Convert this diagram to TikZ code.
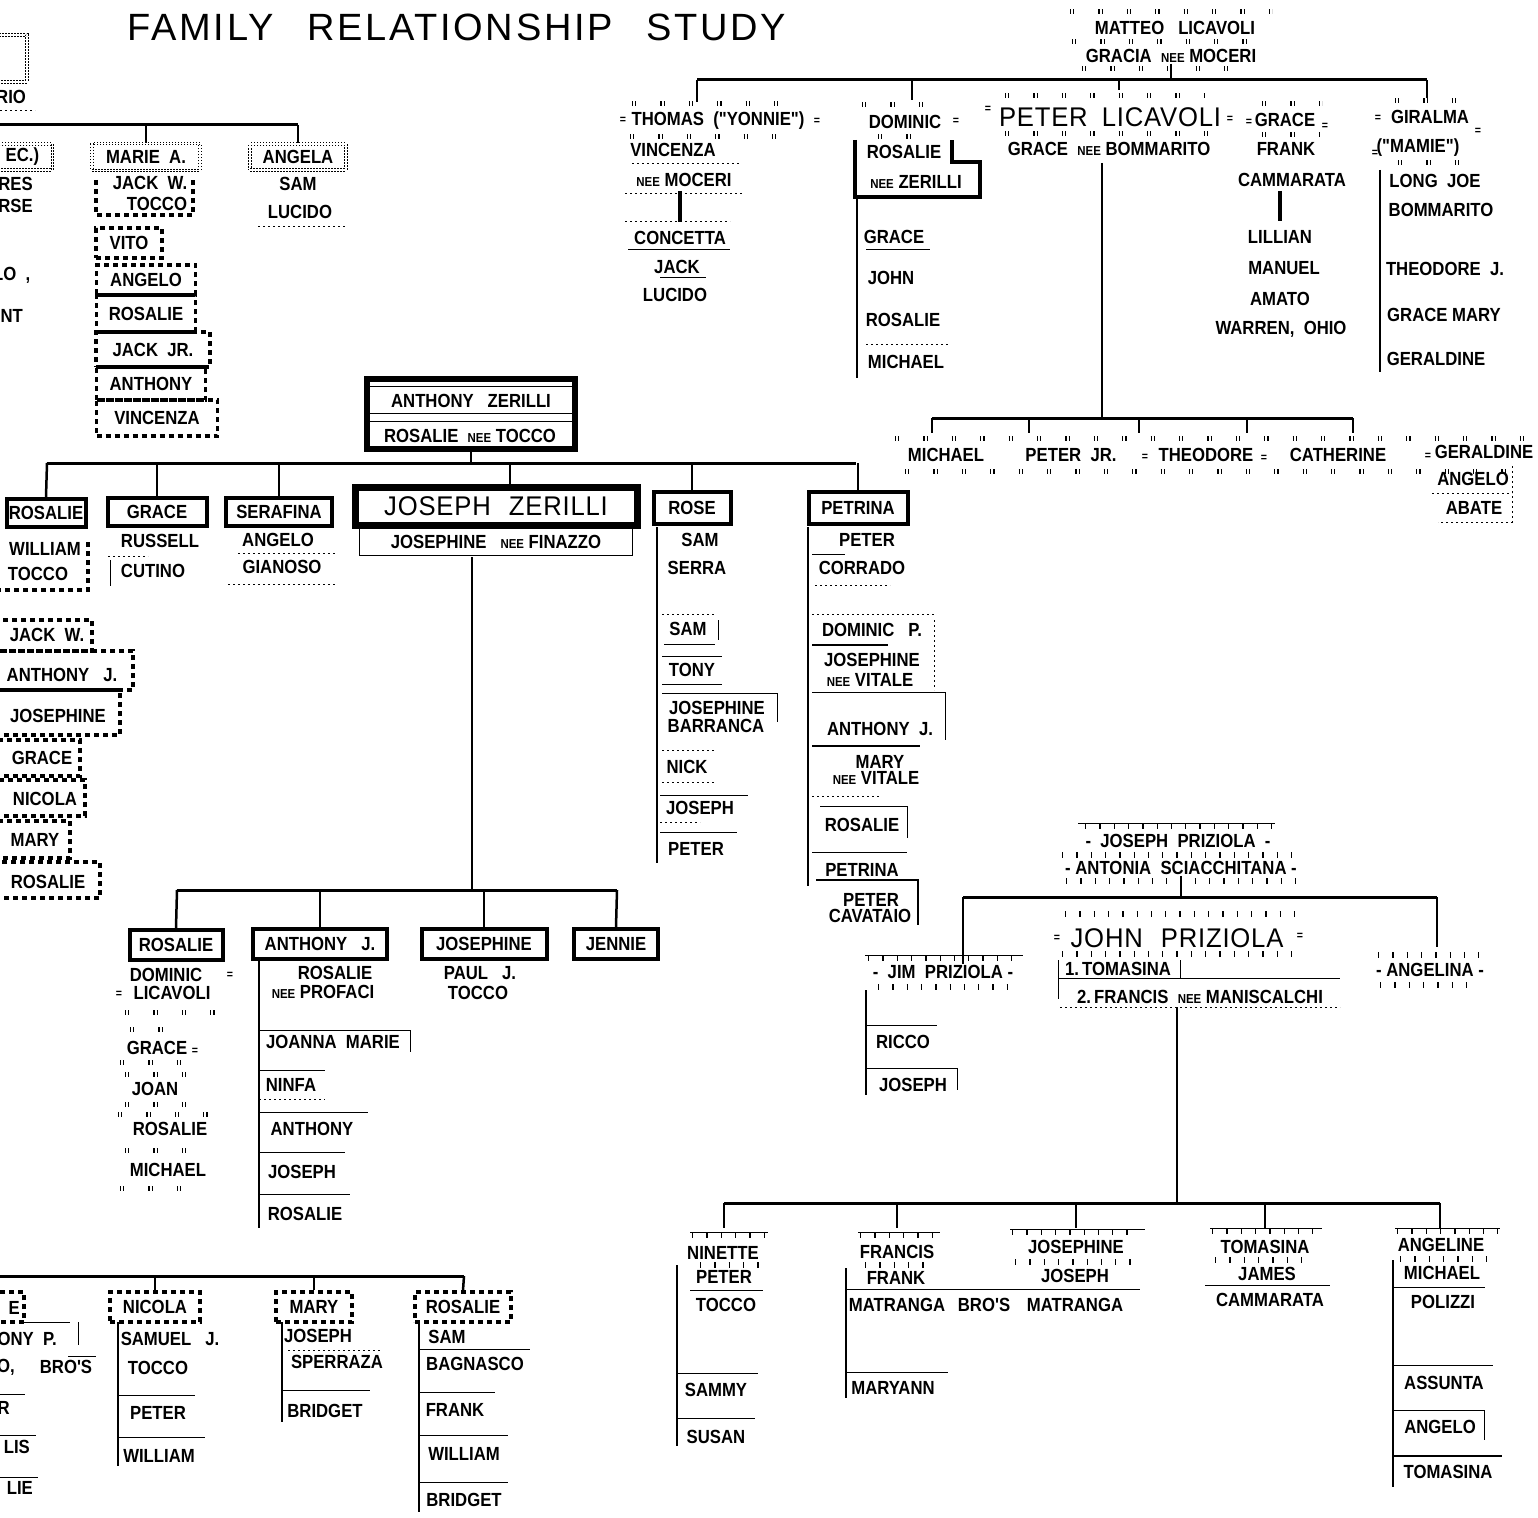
\documentclass[tikz,border=0pt]{standalone}
\usepackage{fontspec}
\setmainfont{Liberation Sans}
\newfontfamily\nmfont{Liberation Sans}[FakeStretch=0.88]
\newfontfamily\bgfont{Liberation Sans}[FakeStretch=0.95,LetterSpace=3]
\newfontfamily\ttlfont{Liberation Sans}[LetterSpace=7]
\newcommand\nee{{\fontsize{13}{13}\selectfont NEE}}
\begin{document}
\begin{tikzpicture}[x=1pt,y=-1pt,
 nm/.style={font=\nmfont\bfseries\fontsize{19}{20}\selectfont, inner sep=1pt},
 bg/.style={font=\bgfont\fontsize{27}{28}\selectfont, inner sep=1pt},
 hbox/.style={nm, draw, line width=4pt},
 dsq/.style={draw, line width=3.5pt, dash pattern=on 5pt off 4pt},
 hft/.style={draw, line width=1.2pt, dash pattern=on 1.5pt off 1.5pt, double, double distance=1.3pt},
 ln/.style={line width=2.5pt},
 bus/.style={line width=3pt},
 thn/.style={line width=0.9pt},
 dtd/.style={line width=0.9pt, dash pattern=on 2pt off 3pt},
 tk/.style={line width=5pt, dash pattern=on 1.2pt off 2pt on 1.2pt off 24pt},
 stk/.style={line width=6pt, dash pattern=on 1.3pt off 13pt},
 eqs/.style={font=\nmfont\bfseries\fontsize{12}{12}\selectfont, inner sep=0pt}]
\useasboundingbox (0,0) rectangle (1538,1517);
\fill[white] (0,0) rectangle (1538,1517);

% ---------- title
\node[font=\ttlfont\fontsize{38}{40}\selectfont, inner sep=0pt] (title) at (457,27) {FAMILY\hspace{34pt}RELATIONSHIP\hspace{34pt}STUDY};

% ---------- top-left fragment
\draw[hft] (-6,35) rectangle (27,82);
\node[nm, anchor=west] (rio) at (-5,97) {RIO};
\draw[dtd] (0,110) -- (35,110);
\coordinate (tl1) at (0,125); \coordinate (tl2) at (298,125);
\draw[bus] (tl1) -- (tl2);
\node[nm, hft, minimum width=108pt, minimum height=27pt] (marie) at (146,157) {MARIE\ \ A.};
\node[nm, hft, minimum width=96pt, minimum height=26pt] (angela) at (298,157) {ANGELA};
\draw[ln] (tl1 -| marie.north) -- (marie.north);
\draw[ln] (tl2) -- (angela.north);
\node[nm, hft, minimum width=60pt, minimum height=26pt, anchor=east] (ec) at (53,157) {EC.)};
\node[nm, anchor=east] (res) at (34,184) {RES};
\node[nm, anchor=east] (rse) at (34,206) {RSE};
\node[nm, anchor=west] (lo) at (-8,275) {LO\ \ ,};
\node[nm, anchor=east] (nt) at (24,316) {NT};

% Marie A. children
\node[nm] (jackW) at (150,183) {JACK\ \ W.};
\node[nm] (toccoM) at (157,204) {TOCCO};
\draw[dsq] (96,180) -- (96,215) -- (193,215) -- (193,180);
\node[nm, dsq, minimum width=66pt, minimum height=30pt] (vito) at (129,243) {VITO};
\node[nm, dsq, minimum width=99pt, minimum height=30pt] (angeloM) at (146,280) {ANGELO};
\node[nm, dsq, minimum width=99pt, minimum height=37pt] (rosalieM) at (146,313.5) {ROSALIE};
\node[nm, dsq, minimum width=114pt, minimum height=35pt] (jackjr) at (153,349.5) {JACK\ \ JR.};
\node[nm, dsq, minimum width=109pt, minimum height=33pt] (anthonyM) at (151,383.5) {ANTHONY};
\node[nm, dsq, minimum width=121pt, minimum height=36pt] (vincenzaM) at (157,418) {VINCENZA};

% Angela children
\node[nm] (samA) at (298,184) {SAM};
\node[nm] (lucidoA) at (300,212) {LUCIDO};
\draw[dtd] (258,226) -- (346,226);

% ---------- Matteo Licavoli
\draw[tk] (1070,12) -- (1272,12);
\node[nm] (matteo) at (1175,28) {MATTEO\ \ \ LICAVOLI};
\draw[tk] (1072,42) -- (1268,42);
\node[nm] (gracia) at (1171,56) {GRACIA\ \ \nee\ MOCERI};
\draw[tk] (1082,69) -- (1250,69);
\coordinate (mb1) at (697,80); \coordinate (mb2) at (1427,80);
\draw[bus] (mb1) -- (mb2);
\draw[ln] (gracia.south) -- (gracia.south |- mb1);

% Thomas
\draw[ln] (mb1) -- ++(0,22);
\draw[tk] (632,104) -- (790,104);
\node[nm] (thomas) at (718,121) {THOMAS\ \ ("YONNIE")};
\node[eqs] (eqt1) at (623,120) {=};
\node[eqs] (eqt2) at (817,121) {=};
\draw[tk] (630,137) -- (795,137);
\node[nm] (vincenzaT) at (673,150) {VINCENZA};
\draw[dtd] (632,163) -- (740,163);
\node[nm] (neeMoceri) at (684,180) {\nee\ MOCERI};
\draw[dtd] (625,193) -- (742,193);
\node[nm] (concetta) at (680,238) {CONCETTA};
\draw[line width=3.5pt] (neeMoceri.south -| concetta.north) -- (concetta.north) [shorten <=3pt, shorten >=8pt];
\draw[dtd] (625,221) -- (730,221);
\draw[thn] (628,249) -- (730,249);
\node[nm] (jackT) at (677,267) {JACK};
\draw[thn] (660,277) -- (706,277);
\node[nm] (lucidoT) at (675,295) {LUCIDO};

% Dominic
\coordinate (dd) at (912,100);
\draw[ln] (dd |- mb1) -- (dd);
\draw[tk] (862,105) -- (930,105);
\node[nm] (dominic) at (905,122) {DOMINIC};
\node[eqs] (eqd) at (956,121) {=};
\draw[tk] (878,137) -- (930,137);
\draw[line width=4pt] (855,140) -- (855,197) -- (980,197) -- (980,162) -- (952,162) -- (952,140);
\node[nm] (rosalieD) at (904,152) {ROSALIE};
\node[nm] (neeZer) at (916,182) {\nee\ ZERILLI};
\coordinate (dv1) at (857,197); \coordinate (dv2) at (857,378);
\draw[ln] (dv1) -- (dv2);
\node[nm] (graceD) at (894,237) {GRACE};
\node[nm] (johnD) at (891,278) {JOHN};
\node[nm] (rosalieD2) at (903,320) {ROSALIE};
\node[nm] (michaelD) at (906,362) {MICHAEL};
\draw[thn] (866,249) -- (930,249);
\draw[dtd] (866,344) -- (950,344);

% Peter Licavoli
\coordinate (dp) at (1119,90);
\draw[ln] (dp |- mb1) -- (dp);
\draw[tk] (1005,96) -- (1205,96);
\node[bg] (plicavoli) at (1110,117) {PETER\hspace{14pt}LICAVOLI};
\node[eqs] (eqp1) at (988,109) {=};
\node[eqs] (eqp2) at (1230,119) {=};
\draw[tk] (1005,134) -- (1210,134);
\node[nm] (graceB) at (1109,149) {GRACE\ \ \nee\ BOMMARITO};
\coordinate (pv) at (1102,163);
\coordinate (pb1) at (932,418); \coordinate (pb2) at (1353,418);
\draw[ln] (pv) -- (pv |- pb1);
\draw[bus] (pb1) -- (pb2);
\foreach \x [count=\i] in {932,1029,1139,1247,1353} {
  \coordinate (pd\i) at (\x,433);
  \draw[ln] (pd\i |- pb1) -- (pd\i);
}
\draw[tk] (895,438) -- (1530,438);
\node[nm] (michaelL) at (946,455) {MICHAEL};
\node[nm] (peterjr) at (1071,455) {PETER\ \ JR.};
\node[nm] (theodoreL) at (1206,455) {THEODORE};
\node[nm] (catherine) at (1338,455) {CATHERINE};
\node[nm] (geraldineL) at (1484,452) {GERALDINE};
\node[eqs] (eqc1) at (1145,457) {=};
\node[eqs] (eqc2) at (1264,458) {=};
\node[eqs] (eqc3) at (1428,456) {=};
\draw[tk] (905,471) -- (1520,471);
\node[nm] (angeloA) at (1473,479) {ANGELO};
\node[nm] (abate) at (1474,508) {ABATE};
\draw[dtd] (1432,493) -- (1512,493);
\draw[dtd] (1512,466) -- (1512,522) -- (1438,522);

% Grace / Frank Cammarata
\draw[tk] (1262,104) -- (1322,104);
\node[nm] (graceF) at (1285,120) {GRACE};
\node[eqs] (eqg1) at (1249,122) {=};
\node[eqs] (eqg2) at (1325,126) {=};
\draw[tk] (1262,135) -- (1320,135);
\node[nm] (frank) at (1286,149) {FRANK};
\node[nm] (cammarata) at (1292,180) {CAMMARATA};
\node[nm] (lillian) at (1280,237) {LILLIAN};
\draw[line width=3.5pt] (cammarata.south -| lillian.north) -- (lillian.north) [shorten <=3pt, shorten >=8pt];
\node[nm] (manuel) at (1284,268) {MANUEL};
\node[nm] (amato) at (1280,299) {AMATO};
\node[nm] (warren) at (1281,329) {WARREN,\ \ OHIO};

% Giralma
\draw[ln] (mb2) -- ++(0,18);
\draw[tk] (1395,101) -- (1480,101);
\node[nm] (giralma) at (1430,117) {GIRALMA};
\node[eqs] (eqm1) at (1378,118) {=};
\node[eqs] (eqm2) at (1478,131) {=};
\node[nm] (mamie) at (1418,148) {("MAMIE")};
\node[eqs] (eqm3) at (1375,153) {=};
\draw[tk] (1398,163) -- (1470,163);
\coordinate (gv1) at (1380,170); \coordinate (gv2) at (1380,372);
\draw[ln] (gv1) -- (gv2);
\node[nm] (longjoe) at (1435,181) {LONG\ \ JOE};
\node[nm] (bommaritoG) at (1441,210) {BOMMARITO};
\node[nm] (theodoreJ) at (1445,269) {THEODORE\ \ J.};
\node[nm] (gracemary) at (1444,315) {GRACE\ MARY};
\node[nm] (geraldineG) at (1436,359) {GERALDINE};

% ---------- Anthony Zerilli
\node[draw, line width=6pt, minimum width=208pt, minimum height=70pt, inner sep=0pt] (azbox) at (471,414) {};
\draw[thn] (369,386) rectangle (573,413);
\draw[thn] (369,421) rectangle (573,447);
\node[nm] (anthonyZ) at (471,401) {ANTHONY\ \ \ ZERILLI};
\node[nm] (rosalieT) at (470,436) {ROSALIE\ \ \nee\ TOCCO};
\coordinate (zb1) at (47,463); \coordinate (zb2) at (856,463);
\draw[ln] (azbox.south) -- (azbox.south |- zb1);
\draw[bus] (zb1) -- (zb2);

\node[hbox, minimum width=79pt, minimum height=28pt] (zrosalie) at (46,513) {ROSALIE};
\node[hbox, minimum width=99pt, minimum height=28pt] (zgrace) at (157,512) {GRACE\hspace{20pt}};
\node[hbox, minimum width=106pt, minimum height=28pt] (zserafina) at (279,512) {SERAFINA};
\node[draw, line width=7pt, bg, minimum width=282pt, minimum height=38pt] (jz) at (496,506) {JOSEPH\hspace{18pt}ZERILLI};
\node[nm, draw, line width=1.8pt, minimum width=273pt, minimum height=27pt] (jzwife) at (496,542) {JOSEPHINE\ \ \ \nee\ FINAZZO};
\node[hbox, minimum width=77pt, minimum height=32pt] (zrose) at (692,508) {ROSE};
\node[hbox, minimum width=99pt, minimum height=32pt] (zpetrina) at (858,508) {PETRINA};
\draw[ln] (zb1) -- (zrosalie.north);
\draw[ln] (zb1 -| zgrace.north) -- (zgrace.north);
\draw[ln] (zb1 -| zserafina.north) -- (zserafina.north);
\coordinate (jzd) at (510,487);
\draw[ln] (jzd |- zb1) -- (jzd);
\draw[ln] (zb1 -| zrose.north) -- (zrose.north);
\draw[ln] (zb1 -| zpetrina.north) -- (zpetrina.north);

% Rosalie (Tocco) children
\node[nm] (williamT) at (45,549) {WILLIAM};
\node[nm] (toccoT1) at (38,574) {TOCCO};
\draw[dsq] (88,542) -- (88,590) -- (-5,590);
\draw[dsq] (-5,620) rectangle (92,651);
\draw[dsq] (-5,651) rectangle (133,690);
\draw[dsq] (-5,690) rectangle (120,735);
\draw[dsq] (-5,740) rectangle (80,776);
\draw[dsq] (-5,780) rectangle (85,816);
\draw[dsq] (-5,821) rectangle (70,858);
\draw[dsq] (-5,862) rectangle (100,898);
\node[nm] (jackWL) at (47,635) {JACK\ \ W.};
\node[nm] (anthonyJL) at (62,675) {ANTHONY\ \ \ J.};
\node[nm] (josephineL) at (58,716) {JOSEPHINE};
\node[nm] (graceLL) at (42,758) {GRACE};
\node[nm] (nicolaL) at (45,799) {NICOLA};
\node[nm] (maryL) at (35,840) {MARY};
\node[nm] (rosalieLL) at (48,882) {ROSALIE};

% Grace / Serafina children
\node[nm] (russell) at (160,541) {RUSSELL};
\node[nm] (cutino) at (153,571) {CUTINO};
\draw[dtd] (108,556) -- (148,556);
\draw[thn] (110,560) -- (110,586);
\node[nm] (angeloS) at (278,540) {ANGELO};
\node[nm] (gianoso) at (282,567) {GIANOSO};
\draw[dtd] (238,553) -- (335,553);
\draw[dtd] (228,584) -- (335,584);

% Rose children
\coordinate (rv1) at (657,527); \coordinate (rv2) at (657,863);
\draw[ln] (rv1) -- (rv2);
\node[nm] (samR) at (700,540) {SAM};
\node[nm] (serra) at (697,568) {SERRA};
\node[nm] (samR2) at (688,629) {SAM};
\node[nm] (tony) at (692,670) {TONY};
\node[nm] (josephineR) at (717,708) {JOSEPHINE};
\node[nm] (barranca) at (716,726) {BARRANCA};
\node[nm] (nick) at (687,767) {NICK};
\node[nm] (josephR) at (700,808) {JOSEPH};
\node[nm] (peterR) at (696,849) {PETER};
\draw[dtd] (662,614) -- (716,614);
\draw[thn] (664,644) -- (715,644);
\draw[thn] (718,620) -- (718,640);
\draw[thn] (662,656) -- (722,656);
\draw[thn] (662,684) -- (722,684);
\draw[thn] (662,693) -- (777,693) -- (777,722);
\draw[dtd] (662,750) -- (716,750);
\draw[dtd] (662,782) -- (716,782);
\draw[thn] (660,795) -- (748,795);
\draw[dtd] (660,822) -- (700,822);
\draw[thn] (660,832) -- (737,832);

% Petrina children
\coordinate (pv1) at (808,527); \coordinate (pv2) at (808,886);
\draw[ln] (pv1) -- (pv2);
\node[nm] (peterP) at (867,540) {PETER};
\node[nm] (corrado) at (862,568) {CORRADO};
\node[nm] (dominicP) at (872,630) {DOMINIC\ \ \ P.};
\node[nm] (josephineV) at (872,660) {JOSEPHINE};
\node[nm] (neeVitale1) at (870,680) {\nee\ VITALE};
\node[nm] (anthonyJP) at (880,729) {ANTHONY\ \ J.};
\node[nm] (maryV) at (880,762) {MARY};
\node[nm] (neeVitale2) at (876,778) {\nee\ VITALE};
\node[nm] (rosalieP) at (862,825) {ROSALIE};
\node[nm] (petrinaP) at (862,870) {PETRINA};
\node[nm] (peterC) at (871,900) {PETER};
\node[nm] (cavataio) at (870,916) {CAVATAIO};
\draw[thn] (812,554) -- (845,554);
\draw[dtd] (815,585) -- (890,585);
\draw[dtd] (812,614) -- (934,614);
\draw[line width=1.8pt] (812,645) -- (888,645);
\draw[dtd] (934,620) -- (934,690);
\draw[thn] (812,692) -- (945,692) -- (945,740);
\draw[line width=1.8pt] (812,746) -- (920,746);
\draw[dtd] (812,796) -- (880,796) ;
\draw[thn] (820,806) -- (907,806) -- (907,838);
\draw[thn] (812,852) -- (907,852);
\draw[line width=1.8pt] (816,880) -- (918,880) -- (918,925);

% ---------- Joseph Zerilli children
\coordinate (jv) at (472,557);
\coordinate (jb1) at (177,890); \coordinate (jb2) at (617,890);
\draw[ln] (jv) -- (jv |- jb1);
\draw[bus] (jb1) -- (jb2);
\node[hbox, minimum width=93pt, minimum height=30pt] (jrosalie) at (176,945) {ROSALIE};
\node[hbox, minimum width=134pt, minimum height=30pt] (janthony) at (320,944) {ANTHONY\ \ \ J.};
\node[hbox, minimum width=125pt, minimum height=30pt] (jjosephine) at (484,944) {JOSEPHINE};
\node[hbox, minimum width=84pt, minimum height=30pt] (jjennie) at (616,944) {JENNIE};
\draw[ln] (jb1) -- (jrosalie.north);
\draw[ln] (jb1 -| janthony.north) -- (janthony.north);
\draw[ln] (jb1 -| jjosephine.north) -- (jjosephine.north);
\draw[ln] (jb2) -- (jjennie.north);

% Rosalie (Dominic Licavoli)
\node[nm] (dominicL) at (166,975) {DOMINIC};
\node[eqs] (eql1) at (230,975) {=};
\node[nm] (licavoliL) at (172,993) {LICAVOLI};
\node[eqs] (eql2) at (119,994) {=};
\draw[tk] (125,1012) -- (232,1012);
\draw[tk] (130,1029) -- (185,1029);
\node[nm] (graceL) at (157,1048) {GRACE};
\node[eqs] (eql3) at (195,1051) {=};
\draw[tk] (120,1062) -- (190,1062);
\draw[tk] (125,1074) -- (196,1074);
\node[nm] (joan) at (155,1089) {JOAN};
\draw[tk] (125,1104) -- (200,1104);
\draw[tk] (118,1114) -- (220,1114);
\node[nm] (rosalieL) at (170,1129) {ROSALIE};
\draw[tk] (125,1150) -- (205,1150);
\node[nm] (michaelL2) at (168,1170) {MICHAEL};
\draw[tk] (120,1188) -- (195,1188);

% Anthony J. children
\coordinate (av1) at (259,960); \coordinate (av2) at (259,1228);
\draw[ln] (av1) -- (av2);
\node[nm] (rosalieP2) at (335,973) {ROSALIE};
\node[nm] (neeProfaci) at (323,992) {\nee\ PROFACI};
\node[nm] (joanna) at (333,1042) {JOANNA\ \ MARIE};
\node[nm] (ninfa) at (291,1085) {NINFA};
\node[nm] (anthonyA) at (312,1129) {ANTHONY};
\node[nm] (josephA) at (302,1172) {JOSEPH};
\node[nm] (rosalieA) at (305,1214) {ROSALIE};
\draw[thn] (259,1030) -- (410,1030) -- (410,1052);
\draw[thn] (259,1070) -- (325,1070);
\draw[dtd] (259,1099) -- (325,1099);
\draw[thn] (259,1112) -- (368,1112);
\draw[thn] (259,1152) -- (345,1152);
\draw[thn] (259,1194) -- (350,1194);

% Josephine children
\node[nm] (paul) at (480,973) {PAUL\ \ \ J.};
\node[nm] (toccoJ) at (478,993) {TOCCO};

% ---------- Priziola
\draw[thn] (1078,823) -- (1275,823);
\draw[stk] (1085,826) -- (1275,826);
\node[nm] (jpriz) at (1178,841) {-\ \ JOSEPH\ \ PRIZIOLA\ \ -};
\draw[stk] (1062,855) -- (1300,855);
\node[nm] (antonia) at (1181,868) {-\ ANTONIA\ \ SCIACCHITANA\ -};
\draw[stk] (1066,881) -- (1295,881);
\coordinate (pzb1) at (963,897); \coordinate (pzb2) at (1437,897);
\draw[ln] (antonia.south) -- (antonia.south |- pzb1);
\draw[bus] (pzb1) -- (pzb2);

% Jim Priziola
\node[nm] (jim) at (943,972) {-\ \ JIM\ \ PRIZIOLA\ -};
\draw[thn] (865,955) -- (1023,955);
\draw[stk] (868,958) -- (1023,958);
\draw[stk] (878,987) -- (1010,987);
\draw[ln] (pzb1) -- (pzb1 |- jim.north);
\coordinate (jpv1) at (866,990); \coordinate (jpv2) at (866,1095);
\draw[ln] (jpv1) -- (jpv2);
\node[nm] (ricco) at (903,1042) {RICCO};
\node[nm] (josephJ) at (913,1085) {JOSEPH};
\draw[thn] (866,1025) -- (937,1025);
\draw[thn] (866,1068) -- (957,1068) -- (957,1090);

% John Priziola
\draw[stk] (1065,914) -- (1295,914);
\node[bg] (john) at (1177,938) {JOHN\hspace{18pt}PRIZIOLA};
\node[eqs] (eqj1) at (1057,938) {=};
\node[eqs] (eqj2) at (1300,936) {=};
\draw[stk] (1062,954) -- (1300,954);
\node[nm] (tomasina1) at (1118,969) {1.\,TOMASINA};
\draw[thn] (1058,960) -- (1058,999);
\draw[thn] (1180,960) -- (1180,978) -- (1340,978);
\draw[thn] (1058,978) -- (1180,978);
\node[nm] (francisJ) at (1200,997) {2.\,FRANCIS\ \ \nee\ MANISCALCHI};
\draw[dtd] (1060,1007) -- (1340,1007);

% Angelina
\draw[ln] (pzb2) -- ++(0,50);
\draw[stk] (1378,955) -- (1480,955);
\node[nm] (angelina) at (1430,970) {-\ ANGELINA\ -};
\draw[stk] (1380,985) -- (1478,985);

% John's children
\coordinate (jnv) at (1177,1007);
\coordinate (cb1) at (724,1203); \coordinate (cb2) at (1440,1203);
\draw[ln] (jnv) -- (jnv |- cb1);
\draw[bus] (cb1) -- (cb2);
\node[nm] (ninette) at (723,1253) {NINETTE};
\node[nm] (peterT) at (724,1277) {PETER};
\node[nm] (toccoT) at (726,1305) {TOCCO};
\node[nm] (francisM) at (897,1252) {FRANCIS};
\node[nm] (frankM) at (896,1278) {FRANK};
\node[nm] (matranga1) at (897,1305) {MATRANGA};
\node[nm] (bros) at (984,1305) {BRO'S};
\node[nm] (josephineM) at (1076,1247) {JOSEPHINE};
\node[nm] (josephM) at (1075,1276) {JOSEPH};
\node[nm] (matranga2) at (1075,1305) {MATRANGA};
\node[nm] (tomasinaC) at (1265,1247) {TOMASINA};
\node[nm] (james) at (1267,1274) {JAMES};
\node[nm] (cammarata2) at (1270,1300) {CAMMARATA};
\node[nm] (angeline) at (1441,1245) {ANGELINE};
\node[nm] (michaelP) at (1442,1273) {MICHAEL};
\node[nm] (polizzi) at (1443,1302) {POLIZZI};
\draw[ln] (cb1) -- ++(0,25);
\draw[ln] (cb1 -| francisM) -- ++(0,25);
\draw[ln] (cb1 -| josephineM) -- ++(0,25);
\draw[ln] (cb1 -| tomasinaC) -- ++(0,25);
\draw[ln] (cb2) -- ++(0,25);
% tick frames
\draw[thn] (690,1232) -- (768,1232);
\draw[stk] (692,1235) -- (768,1235);
\draw[stk] (700,1265) -- (760,1265);
\draw[thn] (858,1232) -- (940,1232);
\draw[stk] (860,1235) -- (940,1235);
\draw[stk] (865,1265) -- (935,1265);
\draw[thn] (1010,1229) -- (1145,1229);
\draw[stk] (1012,1232) -- (1140,1232);
\draw[stk] (1015,1262) -- (1140,1262);
\draw[thn] (1210,1228) -- (1322,1228);
\draw[stk] (1212,1231) -- (1322,1231);
\draw[stk] (1215,1260) -- (1310,1260);
\draw[thn] (1395,1228) -- (1500,1228);
\draw[stk] (1397,1231) -- (1500,1231);
\draw[stk] (1400,1259) -- (1490,1259);
\draw[thn] (690,1290) -- (763,1290);
\draw[thn] (846,1289) -- (1140,1289);
\draw[thn] (1205,1285) -- (1330,1285);
\draw[thn] (1393,1287) -- (1485,1287);
\coordinate (nv1) at (677,1265); \coordinate (nv2) at (677,1446);
\draw[ln] (nv1) -- (nv2);
\node[nm] (sammy) at (716,1390) {SAMMY};
\node[nm] (susan) at (716,1437) {SUSAN};
\draw[thn] (677,1373) -- (758,1373);
\draw[thn] (677,1418) -- (755,1418);
\coordinate (fv1) at (846,1268); \coordinate (fv2) at (846,1398);
\draw[ln] (fv1) -- (fv2);
\node[nm] (maryann) at (893,1388) {MARYANN};
\draw[thn] (846,1372) -- (948,1372);
\coordinate (agv1) at (1393,1260); \coordinate (agv2) at (1393,1487);
\draw[ln] (agv1) -- (agv2);
\node[nm] (assunta) at (1444,1383) {ASSUNTA};
\node[nm] (angeloP) at (1440,1427) {ANGELO};
\node[nm] (tomasinaP) at (1448,1472) {TOMASINA};
\draw[thn] (1393,1365) -- (1493,1365);
\draw[thn] (1393,1410) -- (1484,1410) -- (1484,1440);
\draw[line width=1.5pt] (1393,1456) -- (1502,1456);

% ---------- bottom-left
\coordinate (blb1) at (-5,1276); \coordinate (blb2) at (464,1276);
\draw[bus] (blb1) -- (blb2);
\node[nm, dsq, minimum width=90pt, minimum height=30pt] (nicola) at (155,1307) {NICOLA};
\node[nm, dsq, minimum width=76pt, minimum height=30pt] (maryB) at (314,1307) {MARY};
\node[nm, dsq, minimum width=96pt, minimum height=30pt] (rosalieB) at (463,1307) {ROSALIE};
\draw[ln] (blb1 -| nicola.north) -- (nicola.north);
\draw[ln] (blb1 -| maryB.north) -- (maryB.north);
\draw[ln] (blb2) -- (rosalieB.north);
\draw[dsq] (-5,1292) rectangle (24,1322);
\node[nm, anchor=east] (eB) at (21,1308) {E};
\draw[thn] (24,1322) -- (70,1322);
\draw[thn] (78,1322) -- (78,1345);
\node[nm, anchor=east] (onyp) at (58,1339) {ONY\ \ P.};
\node[nm, anchor=east] (oB) at (16,1367) {O,};
\node[nm] (brosB) at (66,1367) {BRO'S};
\draw[thn] (68,1356) -- (96,1356);
\node[nm, anchor=east] (rB) at (11,1408) {R};
\draw[thn] (0,1394) -- (25,1394);
\node[nm, anchor=east] (lisB) at (31,1447) {LIS};
\draw[thn] (0,1435) -- (36,1435);
\node[nm, anchor=east] (lieB) at (34,1488) {LIE};
\draw[thn] (0,1477) -- (38,1477);

\coordinate (nc1) at (118,1322); \coordinate (nc2) at (118,1466);
\draw[ln] (nc1) -- (nc2);
\node[nm] (samuel) at (170,1339) {SAMUEL\ \ \ J.};
\node[nm] (toccoN) at (158,1368) {TOCCO};
\node[nm] (peterN) at (158,1413) {PETER};
\node[nm] (williamN) at (159,1456) {WILLIAM};
\draw[thn] (118,1395) -- (195,1395);
\draw[thn] (118,1437) -- (205,1437);

\coordinate (mc1) at (282,1322); \coordinate (mc2) at (282,1422);
\draw[ln] (mc1) -- (mc2);
\node[nm] (josephS) at (318,1336) {JOSEPH};
\node[nm] (sperraza) at (337,1362) {SPERRAZA};
\node[nm] (bridgetM) at (325,1411) {BRIDGET};
\draw[dtd] (288,1350) -- (380,1350);
\draw[thn] (282,1390) -- (370,1390);

\coordinate (rc1) at (419,1322); \coordinate (rc2) at (419,1512);
\draw[ln] (rc1) -- (rc2);
\node[nm] (samB) at (447,1337) {SAM};
\node[nm] (bagnasco) at (475,1364) {BAGNASCO};
\node[nm] (frankB) at (455,1410) {FRANK};
\node[nm] (williamB) at (464,1454) {WILLIAM};
\node[nm] (bridgetB) at (464,1500) {BRIDGET};
\draw[thn] (419,1349) -- (530,1349);
\draw[thn] (419,1392) -- (495,1392);
\draw[thn] (419,1435) -- (508,1435);
\draw[thn] (419,1482) -- (508,1482);
\end{tikzpicture}
\end{document}
